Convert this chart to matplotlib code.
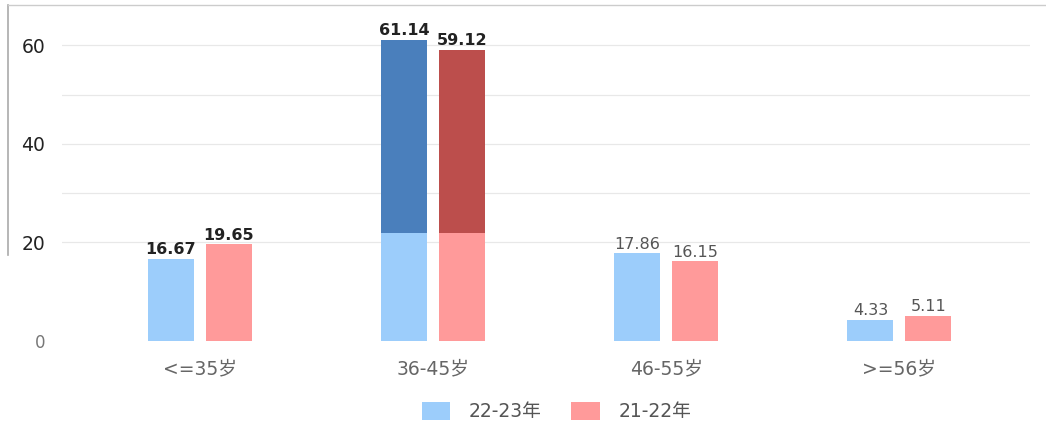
import matplotlib
matplotlib.use("Agg")
import matplotlib.pyplot as plt
from matplotlib.lines import Line2D
import numpy as np

plt.rcParams['font.family'] = ['DejaVu Sans', 'Noto Sans CJK SC']

categories = ["<=35岁", "36-45岁", "46-55岁", ">=56岁"]
series_names = ["22-23年", "21-22年"]
vals_2223 = [16.67, 61.14, 17.86, 4.33]
vals_2122 = [19.65, 59.12, 16.15, 5.11]
yticks = [0, 20, 40, 60]

light = ["#9ccdfb", "#ff9a9a"]
dark = ["#4a7fbc", "#bc4e4c"]
hover_idx = 1        # group shown highlighted in the screenshot
hover_from = 22      # highlight starts above this level
bold_idx = [0, 1]    # groups whose value labels are dark/bold

W, H = 1046, 434
fig = plt.figure(figsize=(W / 100, H / 100), dpi=100)
ax = fig.add_axes([62 / W, 1 - 345 / H, (1030 - 62) / W, 345 / H])

x = np.arange(len(categories))
bw, off = 0.197, 0.124
for k, vals in enumerate([vals_2223, vals_2122]):
    xs = x + (2 * k - 1) * off
    ax.bar(xs, vals, width=bw, color=light[k], label=series_names[k], zorder=2)
    hv = vals[hover_idx]
    ax.bar(xs[hover_idx], hv - hover_from, bottom=hover_from, width=bw,
           color=dark[k], zorder=3)
    for i, v in enumerate(vals):
        if i in bold_idx:
            ax.text(xs[i], v + 0.3, f"{v:.2f}", ha="center", va="bottom",
                    fontsize=11.5, color="#222222", fontweight="bold")
        else:
            ax.text(xs[i], v + 0.3, f"{v:.2f}", ha="center", va="bottom",
                    fontsize=11.5, color="#555555")

for g in [20, 30, 40, 50, 60]:
    ax.axhline(g, color="#e8e8e8", lw=0.9, zorder=0)

ax.set_xlim(-0.59, 3.56)
ax.set_ylim(-0.8, 69.2)
ax.set_yticks(yticks)
ax.set_yticklabels([str(t) for t in yticks])
for i, lab in enumerate(ax.get_yticklabels()):
    if yticks[i] == 0:
        lab.set_color("#777777")
        lab.set_fontsize(12)
    else:
        lab.set_color("#222222")
        lab.set_fontsize(13.5)
ax.set_xticks(x)
ax.set_xticklabels(categories, fontsize=13.5, color="#666666")
ax.tick_params(length=0, axis="y", pad=12)
ax.tick_params(length=0, axis="x", pad=10)
for s in ax.spines.values():
    s.set_visible(False)

# screenshot frame on the upper part
fig.add_artist(Line2D([8 / W, 8 / W], [1 - 255 / H, 1 - 5 / H],
                      color="#aaaaaa", lw=1.2, transform=fig.transFigure))
fig.add_artist(Line2D([8 / W, 1], [1 - 5 / H, 1 - 5 / H],
                      color="#cccccc", lw=1.0, transform=fig.transFigure))

fig.legend(loc="lower center", bbox_to_anchor=(0.532, -0.01), ncol=2,
           frameon=False, fontsize=13.5, handlelength=1.5, handleheight=1.1,
           handletextpad=1.0, columnspacing=1.6, labelcolor="#555555")

fig.savefig("out.png", dpi=100)
